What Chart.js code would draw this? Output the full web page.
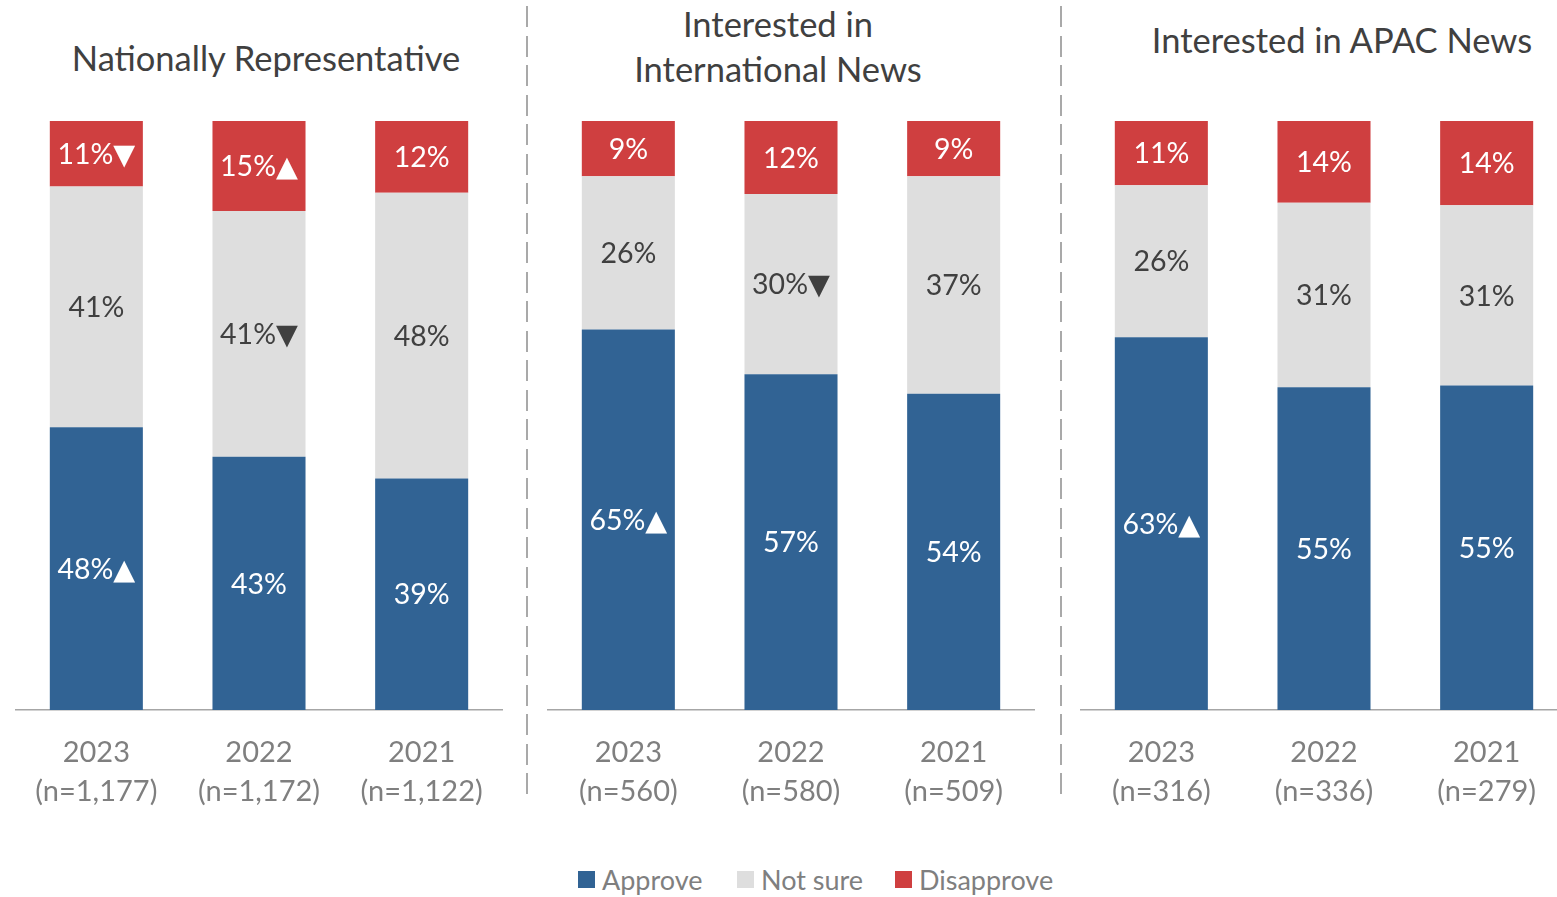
<!DOCTYPE html>
<html>
<head>
<meta charset="utf-8">
<script src="https://cdn.jsdelivr.net/npm/chart.js@4.4.1/dist/chart.umd.min.js"></script>
<style>
  html, body { margin: 0; padding: 0; background: #ffffff; }
  body { width: 1557px; height: 897px; position: relative; overflow: hidden; font-family: Lato, "Liberation Sans", sans-serif; }
  .panel { position: absolute; top: 0; }
  .title { position: absolute; text-align: center; color: #404040; font-size: 34.5px; line-height: 1.2; white-space: nowrap; width: 600px; }
  .sep { position: absolute; top: 6px; width: 2px; height: 794px;
         background: repeating-linear-gradient(to bottom, #a9a9a9 0px, #a9a9a9 21px, transparent 21px, transparent 29.5px); }
  .legend { position: absolute; top: 862px; left: 0; height: 34px; font-size: 27px; color: #7f7f7f; }
  .legend .item { position: absolute; top: 0; display: flex; align-items: center; height: 34px; white-space: nowrap; }
  .legend .sw { width: 17px; height: 17px; margin-right: 7px; }
</style>
</head>
<body>

<div class="sep" style="left:526px"></div>
<div class="sep" style="left:1060px"></div>

<div class="title" style="left:-34px; top:37px;">Nationally Representative</div>
<div class="title" style="left:478px; top:1px; line-height:45px;">Interested in<br>International News</div>
<div class="title" style="left:1042px; top:19px;">Interested in APAC News</div>

<div class="panel" style="left:15px"><canvas id="c1" width="488" height="834"></canvas></div>
<div class="panel" style="left:547px"><canvas id="c2" width="488" height="834"></canvas></div>
<div class="panel" style="left:1080px"><canvas id="c3" width="488" height="834"></canvas></div>

<div class="legend" id="legend"></div>

<script>
// ---------- DATA ----------
const seriesNames = ["Approve", "Not sure", "Disapprove"];
const seriesColors = ["#316394", "#DEDEDE", "#CF3F40"];
const labelColors = ["#ffffff", "#404040", "#ffffff"];

const years = ["2023", "2022", "2021"];

// Panel 1: Nationally Representative
const natSample = ["(n=1,177)", "(n=1,172)", "(n=1,122)"];
const natApprove = [48.0, 43.0, 39.3];
const natNotSure = [40.9, 41.7, 48.5];
const natDisapprove = [11.1, 15.3, 12.2];
const natApproveLabels = ["48%▲", "43%", "39%"];
const natNotSureLabels = ["41%", "41%▼", "48%"];
const natDisapproveLabels = ["11%▼", "15%▲", "12%"];

// Panel 2: Interested in International News
const intlSample = ["(n=560)", "(n=580)", "(n=509)"];
const intlApprove = [64.6, 57.0, 53.7];
const intlNotSure = [26.0, 30.6, 36.9];
const intlDisapprove = [9.4, 12.4, 9.4];
const intlApproveLabels = ["65%▲", "57%", "54%"];
const intlNotSureLabels = ["26%", "30%▼", "37%"];
const intlDisapproveLabels = ["9%", "12%", "9%"];

// Panel 3: Interested in APAC News
const apacSample = ["(n=316)", "(n=336)", "(n=279)"];
const apacApprove = [63.3, 54.8, 55.1];
const apacNotSure = [25.8, 31.3, 30.6];
const apacDisapprove = [10.9, 13.9, 14.3];
const apacApproveLabels = ["63%▲", "55%", "55%"];
const apacNotSureLabels = ["26%", "31%", "31%"];
const apacDisapproveLabels = ["11%", "14%", "14%"];

// ---------- PLUGIN: segment labels ----------
const segLabels = {
  id: 'segLabels',
  afterDatasetsDraw(chart) {
    const ctx = chart.ctx;
    chart.data.datasets.forEach((ds, i) => {
      const meta = chart.getDatasetMeta(i);
      meta.data.forEach((bar, j) => {
        const p = bar.getProps(['x', 'y', 'base'], true);
        ctx.save();
        ctx.fillStyle = ds.labelColor;
        ctx.font = '28.5px Lato, "DejaVu Sans", sans-serif';
        ctx.textAlign = 'center';
        ctx.textBaseline = 'middle';
        ctx.fillText(ds.segText[j], p.x, (p.y + p.base) / 2 + 1);
        ctx.restore();
      });
    });
  }
};

function makeChart(id, samples, values, texts) {
  const labels = years.map((y, i) => [y, samples[i]]);
  const datasets = values.map((vals, k) => ({
    label: seriesNames[k],
    data: vals,
    backgroundColor: seriesColors[k],
    borderWidth: 0,
    barPercentage: 0.572,
    categoryPercentage: 1.0,
    labelColor: labelColors[k],
    segText: texts[k]
  }));
  return new Chart(document.getElementById(id), {
    type: 'bar',
    data: { labels, datasets },
    plugins: [segLabels],
    options: {
      responsive: false,
      devicePixelRatio: 1,
      animation: false,
      layout: { padding: { top: 121, left: 0, right: 0, bottom: 0 } },
      plugins: { legend: { display: false }, title: { display: false }, tooltip: { enabled: false } },
      scales: {
        x: {
          stacked: true,
          grid: { display: false, drawTicks: false },
          border: { display: true, color: '#a6a6a6', width: 1.5 },
          ticks: {
            color: '#7f7f7f',
            font: { family: 'Lato', size: 29, lineHeight: 1.345 },
            padding: 23,
            maxRotation: 0,
            autoSkip: false
          },
          afterFit(scale) { scale.paddingLeft = 0; scale.paddingRight = 0; }
        },
        y: {
          stacked: true,
          display: false,
          min: 0,
          max: 100
        }
      }
    }
  });
}

makeChart('c1', natSample,
  [natApprove, natNotSure, natDisapprove],
  [natApproveLabels, natNotSureLabels, natDisapproveLabels]);
makeChart('c2', intlSample,
  [intlApprove, intlNotSure, intlDisapprove],
  [intlApproveLabels, intlNotSureLabels, intlDisapproveLabels]);
makeChart('c3', apacSample,
  [apacApprove, apacNotSure, apacDisapprove],
  [apacApproveLabels, apacNotSureLabels, apacDisapproveLabels]);

// ---------- LEGEND ----------
const legendLefts = [578, 737, 895];
const legend = document.getElementById('legend');
seriesNames.forEach((name, k) => {
  const it = document.createElement('div');
  it.className = 'item';
  it.style.left = legendLefts[k] + 'px';
  const sw = document.createElement('span');
  sw.className = 'sw';
  sw.style.background = seriesColors[k];
  const tx = document.createElement('span');
  tx.textContent = name;
  it.appendChild(sw);
  it.appendChild(tx);
  legend.appendChild(it);
});
</script>
</body>
</html>
